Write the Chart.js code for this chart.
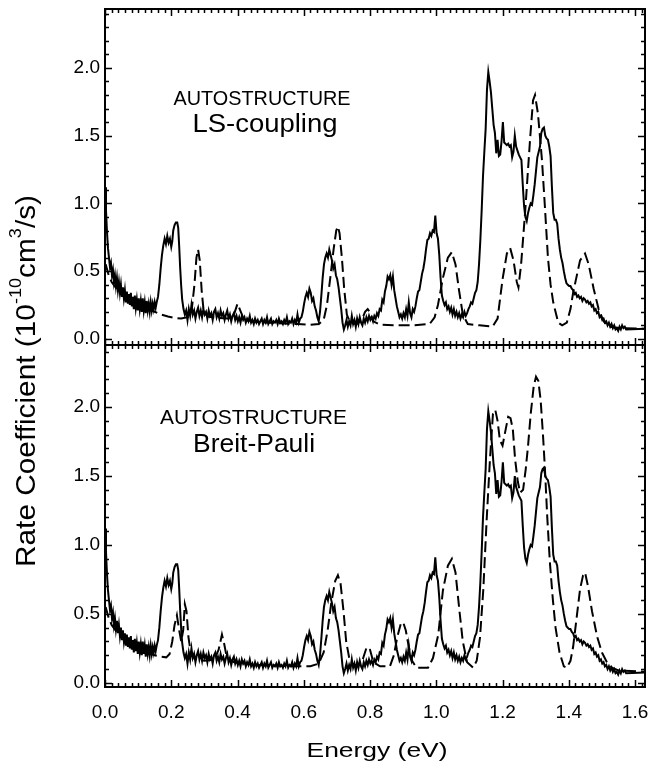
<!DOCTYPE html>
<html>
<head>
<meta charset="utf-8">
<title>Rate coefficient vs energy</title>
<script src="https://cdn.jsdelivr.net/npm/chart.js@4.4.1/dist/chart.umd.min.js"></script>
<style>
  html, body { margin: 0; padding: 0; background: #fff; }
  #rateChart { display: block; }
</style>
</head>
<body>
<canvas id="rateChart" width="649" height="770"></canvas>
<script>
/*===== DATA =====*/
// measured rate coefficient (same in both panels)
const expEnergy = [
  0.000, 0.003, 0.006, 0.009, 0.012, 0.015, 0.018, 0.021, 0.024, 0.027,
  0.030, 0.033, 0.036, 0.039, 0.042, 0.045, 0.048, 0.051, 0.054, 0.057,
  0.060, 0.063, 0.066, 0.069, 0.072, 0.075, 0.078, 0.081, 0.084, 0.087,
  0.090, 0.093, 0.096, 0.099, 0.102, 0.105, 0.108, 0.111, 0.114, 0.117,
  0.120, 0.123, 0.126, 0.129, 0.132, 0.135, 0.138, 0.141, 0.144, 0.147,
  0.150, 0.153,
  0.156, 0.160, 0.164, 0.168, 0.172, 0.176, 0.180, 0.184, 0.188, 0.192,
  0.196, 0.200, 0.203, 0.206, 0.210, 0.214, 0.218, 0.221, 0.224, 0.227,
  0.230, 0.233, 0.237, 0.241,
  0.245, 0.249, 0.253, 0.257, 0.261, 0.265, 0.269, 0.273, 0.277, 0.281,
  0.285, 0.289, 0.293, 0.297, 0.301, 0.305, 0.309, 0.313, 0.317, 0.321,
  0.325, 0.329, 0.333, 0.337, 0.341, 0.345, 0.349, 0.353, 0.357, 0.361,
  0.365, 0.369, 0.373, 0.377, 0.381, 0.385, 0.389, 0.393, 0.397, 0.401,
  0.405, 0.409, 0.413, 0.417, 0.421, 0.425, 0.429, 0.433, 0.437, 0.441,
  0.445, 0.449, 0.453, 0.457, 0.461, 0.465, 0.469, 0.473, 0.477, 0.481,
  0.485, 0.489, 0.493, 0.497, 0.501, 0.505, 0.509, 0.513, 0.517, 0.521,
  0.525, 0.529, 0.533, 0.537, 0.541, 0.545, 0.549, 0.553, 0.557, 0.561,
  0.565, 0.569, 0.573, 0.577, 0.581, 0.585, 0.589, 0.593, 0.597, 0.601,
  0.605, 0.609, 0.613, 0.617, 0.621, 0.625, 0.629, 0.633, 0.637, 0.641,
  0.645, 0.649, 0.653, 0.657, 0.661, 0.665, 0.669, 0.673, 0.677, 0.681,
  0.685, 0.689, 0.693, 0.697, 0.701, 0.705, 0.709, 0.713, 0.717, 0.721,
  0.725, 0.729, 0.733, 0.737, 0.741, 0.745, 0.749, 0.753, 0.757, 0.761,
  0.765, 0.769, 0.773, 0.777, 0.781, 0.785, 0.789, 0.793, 0.797, 0.801,
  0.805, 0.809, 0.813, 0.817, 0.821, 0.825, 0.829, 0.833, 0.837, 0.841,
  0.845, 0.849, 0.853, 0.857, 0.861, 0.865, 0.869, 0.873, 0.877, 0.881,
  0.885, 0.889, 0.893, 0.897, 0.901, 0.905, 0.909, 0.913, 0.917, 0.921,
  0.925, 0.929, 0.933, 0.937, 0.941, 0.945, 0.949, 0.953, 0.957, 0.961,
  0.965, 0.969, 0.973, 0.977, 0.981, 0.985, 0.989, 0.993, 0.997, 1.001,
  1.005, 1.009, 1.013, 1.017, 1.021, 1.025, 1.029, 1.033, 1.037, 1.041,
  1.045, 1.049, 1.053, 1.057, 1.061, 1.065, 1.069, 1.073, 1.077, 1.081,
  1.085, 1.089, 1.093, 1.097, 1.101, 1.105, 1.109, 1.113, 1.117, 1.121,
  1.125, 1.129, 1.133, 1.137, 1.141, 1.145, 1.149, 1.153, 1.157, 1.161,
  1.165, 1.169, 1.173, 1.177, 1.181, 1.185, 1.189, 1.193, 1.197, 1.201,
  1.205, 1.209, 1.213, 1.217, 1.221, 1.225, 1.229, 1.233, 1.237, 1.241,
  1.245, 1.249, 1.253, 1.257, 1.261, 1.265, 1.269, 1.273, 1.277, 1.281,
  1.285, 1.289, 1.293, 1.297, 1.301, 1.305, 1.309, 1.313, 1.317, 1.321,
  1.325, 1.329, 1.333, 1.337, 1.341, 1.345, 1.349, 1.353, 1.357, 1.361,
  1.365, 1.369, 1.373, 1.377, 1.381, 1.385, 1.389, 1.393, 1.397, 1.401,
  1.405, 1.409, 1.413, 1.417, 1.421, 1.425, 1.429, 1.433, 1.437, 1.441,
  1.445, 1.449, 1.453, 1.457, 1.461, 1.465, 1.469, 1.473, 1.477, 1.481,
  1.485, 1.489, 1.493, 1.497, 1.501, 1.505, 1.509, 1.513, 1.517, 1.521,
  1.525, 1.529, 1.533, 1.537, 1.541, 1.545, 1.549, 1.553, 1.557, 1.561,
  1.565, 1.569, 1.573, 1.630
];
const expRate = [
  1.12, 0.95, 0.79, 0.67, 0.60, 0.53, 0.56, 0.47, 0.51, 0.42,
  0.47, 0.39, 0.45, 0.36, 0.42, 0.34, 0.40, 0.31, 0.38, 0.30,
  0.36, 0.27, 0.35, 0.26, 0.33, 0.25, 0.34, 0.24, 0.31, 0.22,
  0.32, 0.23, 0.29, 0.21, 0.30, 0.22, 0.28, 0.20, 0.30, 0.21,
  0.27, 0.19, 0.28, 0.21, 0.26, 0.20, 0.27, 0.21, 0.26, 0.22,
  0.27, 0.23,
  0.27, 0.31, 0.40, 0.52, 0.62, 0.69, 0.74, 0.70, 0.76, 0.71,
  0.74, 0.68, 0.72, 0.80, 0.84, 0.86, 0.86, 0.82, 0.68, 0.52,
  0.39, 0.29, 0.22, 0.18,
  0.21, 0.14, 0.22, 0.17, 0.25, 0.18, 0.21, 0.15, 0.20, 0.23,
  0.17, 0.21, 0.16, 0.22, 0.18, 0.20, 0.15, 0.21, 0.17, 0.19,
  0.14, 0.20, 0.22, 0.16, 0.19, 0.15, 0.21, 0.17, 0.19, 0.14,
  0.18, 0.21, 0.15, 0.18, 0.13, 0.17, 0.19, 0.14, 0.17, 0.13,
  0.16, 0.12, 0.17, 0.14, 0.16, 0.12, 0.15, 0.13, 0.17, 0.12,
  0.14, 0.11, 0.15, 0.12, 0.14, 0.11, 0.13, 0.15, 0.11, 0.14,
  0.12, 0.16, 0.11, 0.13, 0.15, 0.11, 0.13, 0.12, 0.14, 0.11,
  0.15, 0.12, 0.13, 0.11, 0.14, 0.12, 0.16, 0.11, 0.13, 0.12,
  0.15, 0.11, 0.14, 0.12, 0.18, 0.12, 0.15, 0.16, 0.20, 0.26,
  0.31, 0.34, 0.31, 0.37, 0.34, 0.28, 0.30, 0.24, 0.21, 0.16,
  0.13, 0.20, 0.32, 0.45, 0.55, 0.60, 0.63, 0.60, 0.66, 0.62,
  0.58, 0.52, 0.55, 0.47, 0.44, 0.38, 0.30, 0.22, 0.12, 0.07,
  0.10, 0.14, 0.09, 0.13, 0.10, 0.17, 0.11, 0.14, 0.09, 0.15,
  0.11, 0.16, 0.12, 0.10, 0.15, 0.12, 0.16, 0.13, 0.17, 0.14,
  0.16, 0.13, 0.17, 0.15, 0.19, 0.17, 0.22, 0.21, 0.29, 0.27,
  0.35, 0.39, 0.46, 0.44, 0.47, 0.40, 0.46, 0.36, 0.30, 0.24,
  0.20, 0.16, 0.18, 0.15, 0.19, 0.16, 0.22, 0.17, 0.27, 0.19,
  0.16, 0.22, 0.20, 0.24, 0.30, 0.35, 0.36, 0.42, 0.48, 0.52,
  0.58, 0.66, 0.73, 0.74, 0.78, 0.76, 0.80, 0.79, 0.91, 0.78,
  0.74, 0.62, 0.45, 0.32, 0.28, 0.25, 0.27, 0.22, 0.24, 0.20,
  0.23, 0.18, 0.22, 0.17, 0.20, 0.16, 0.19, 0.15, 0.18, 0.16,
  0.20, 0.17, 0.19, 0.22, 0.24, 0.27, 0.26, 0.30, 0.34, 0.36,
  0.42, 0.55, 0.73, 0.95, 1.20, 1.38, 1.55, 1.84, 1.97, 1.90,
  1.82, 1.70, 1.58, 1.52, 1.37, 1.47, 1.35, 1.36, 1.46, 1.60,
  1.45, 1.44, 1.43, 1.44, 1.42, 1.43, 1.34, 1.38, 1.50, 1.42,
  1.39, 1.36, 1.34, 1.32, 1.14, 0.98, 0.90, 0.87, 0.93, 0.97,
  1.00, 0.99, 1.06, 1.14, 1.24, 1.34, 1.38, 1.42, 1.52, 1.55,
  1.56, 1.50, 1.48, 1.47, 1.42, 1.35, 1.12, 0.93, 0.88, 0.88,
  0.85, 0.74, 0.66, 0.60, 0.56, 0.50, 0.45, 0.41, 0.40, 0.39,
  0.39, 0.37, 0.36, 0.33, 0.34, 0.31, 0.32, 0.30, 0.31, 0.28,
  0.30, 0.29, 0.27, 0.28, 0.26, 0.27, 0.24, 0.25, 0.21, 0.22,
  0.19, 0.20, 0.16, 0.17, 0.14, 0.15, 0.12, 0.13, 0.10, 0.12,
  0.09, 0.11, 0.08, 0.10, 0.07, 0.08, 0.06, 0.09, 0.07, 0.10,
  0.08, 0.09, 0.07, 0.075
];

// AUTOSTRUCTURE, LS-coupling (top panel, dashed)
const lsEnergy = [
  0.002, 0.010, 0.020, 0.035, 0.050, 0.070, 0.090, 0.110, 0.130, 0.150,
  0.170, 0.190, 0.210, 0.230, 0.250, 0.262, 0.270, 0.276, 0.281, 0.286,
  0.292, 0.298, 0.310, 0.340, 0.370, 0.388, 0.400, 0.410, 0.420, 0.460,
  0.520, 0.580, 0.620, 0.645, 0.660, 0.670, 0.680, 0.690, 0.698, 0.703,
  0.708, 0.715, 0.722, 0.730, 0.740, 0.760, 0.775, 0.785, 0.793, 0.801,
  0.810, 0.830, 0.870, 0.930, 0.980, 0.995, 1.005, 1.020, 1.035, 1.047,
  1.058, 1.068, 1.080, 1.095, 1.130, 1.170, 1.185, 1.200, 1.213, 1.223,
  1.233, 1.243, 1.248, 1.256, 1.268, 1.283, 1.292, 1.298, 1.307, 1.319,
  1.328, 1.337, 1.345, 1.353, 1.368, 1.380, 1.394, 1.405, 1.413, 1.434,
  1.449, 1.460, 1.475, 1.490, 1.505, 1.520, 1.550, 1.630
];
const lsRate = [
  0.55, 0.48, 0.42, 0.37, 0.33, 0.29, 0.26, 0.235, 0.215, 0.20,
  0.18, 0.165, 0.155, 0.15, 0.16, 0.22, 0.40, 0.60, 0.66, 0.58,
  0.35, 0.20, 0.165, 0.155, 0.15, 0.17, 0.26, 0.20, 0.14, 0.125,
  0.115, 0.11, 0.105, 0.11, 0.14, 0.25, 0.45, 0.66, 0.80, 0.83,
  0.78, 0.60, 0.37, 0.18, 0.12, 0.11, 0.14, 0.20, 0.22, 0.19,
  0.13, 0.105, 0.10, 0.10, 0.11, 0.16, 0.25, 0.45, 0.60, 0.64,
  0.55, 0.37, 0.18, 0.11, 0.10, 0.09, 0.15, 0.44, 0.63, 0.67,
  0.58, 0.42, 0.38, 0.55, 0.93, 1.47, 1.76, 1.80, 1.66, 1.32,
  0.97, 0.60, 0.40, 0.27, 0.12, 0.10, 0.12, 0.22, 0.34, 0.58,
  0.63, 0.55, 0.37, 0.22, 0.13, 0.09, 0.08, 0.075
];

// AUTOSTRUCTURE, Breit-Pauli (bottom panel, dashed)
const bpEnergy = [
  0.002, 0.010, 0.020, 0.035, 0.050, 0.070, 0.090, 0.110, 0.130, 0.150,
  0.170, 0.185, 0.195, 0.203, 0.210, 0.217, 0.224, 0.230, 0.236, 0.241,
  0.246, 0.252, 0.260, 0.275, 0.300, 0.330, 0.343, 0.353, 0.360, 0.368,
  0.390, 0.450, 0.520, 0.580, 0.620, 0.645, 0.660, 0.672, 0.683, 0.695,
  0.703, 0.711, 0.720, 0.728, 0.738, 0.750, 0.765, 0.778, 0.790, 0.800,
  0.810, 0.830, 0.860, 0.872, 0.882, 0.893, 0.900, 0.908, 0.917, 0.927,
  0.940, 0.975, 0.990, 1.006, 1.020, 1.035, 1.047, 1.058, 1.070, 1.080,
  1.093, 1.111, 1.122, 1.132, 1.142, 1.152, 1.162, 1.171, 1.178, 1.185,
  1.192, 1.200, 1.208, 1.217, 1.224, 1.231, 1.238, 1.246, 1.253, 1.262,
  1.270, 1.277, 1.285, 1.294, 1.301, 1.308, 1.315, 1.322, 1.328, 1.335,
  1.343, 1.352, 1.360, 1.372, 1.385, 1.394, 1.405, 1.413, 1.424, 1.434,
  1.443, 1.449, 1.458, 1.470, 1.485, 1.500, 1.515, 1.530, 1.550, 1.630
];
const bpRate = [
  0.55, 0.48, 0.42, 0.37, 0.33, 0.29, 0.26, 0.235, 0.215, 0.20,
  0.19, 0.185, 0.21, 0.30, 0.42, 0.49, 0.38, 0.30, 0.38, 0.57,
  0.52, 0.33, 0.20, 0.17, 0.16, 0.17, 0.24, 0.35, 0.28, 0.18,
  0.15, 0.13, 0.125, 0.12, 0.12, 0.14, 0.22, 0.38, 0.58, 0.74,
  0.78, 0.72, 0.52, 0.30, 0.17, 0.13, 0.13, 0.17, 0.26, 0.24,
  0.15, 0.12, 0.12, 0.20, 0.33, 0.43, 0.44, 0.38, 0.26, 0.16,
  0.11, 0.11, 0.18, 0.35, 0.67, 0.85, 0.90, 0.80, 0.52, 0.30,
  0.15, 0.11, 0.16, 0.33, 0.68, 1.18, 1.62, 1.95, 1.98, 1.90,
  1.76, 1.72, 1.82, 1.93, 1.92, 1.84, 1.62, 1.46, 1.38, 1.40,
  1.55, 1.72, 1.95, 2.15, 2.22, 2.19, 2.05, 1.80, 1.55, 1.20,
  0.87, 0.60, 0.40, 0.22, 0.12, 0.11, 0.16, 0.26, 0.48, 0.68,
  0.78, 0.80, 0.70, 0.52, 0.34, 0.22, 0.15, 0.11, 0.09, 0.08
];

// axis ranges and tick steps
const energyRange = [0, 1.63];
const topRange = [-0.045, 2.435];
const bottomRange = [-0.03, 2.45];
const energyMajor = 0.2, energyMinor = 0.02;
const rateMajor = 0.5, rateMinor = 0.1;

const topLabel = ["AUTOSTRUCTURE", "LS-coupling"];
const bottomLabel = ["AUTOSTRUCTURE", "Breit-Pauli"];

const FONT = "'Liberation Sans', Arial, Helvetica, sans-serif";

function toPoints(xs, ys) {
  return xs.map((x, i) => ({ x: x, y: ys[i] }));
}

// draws text squeezed/stretched along the baseline to a given width
function fitText(ctx, text, cx, baseY, size, width) {
  ctx.font = size + "px " + FONT;
  const natural = ctx.measureText(text).width;
  ctx.save();
  ctx.translate(cx, baseY);
  ctx.scale(width / natural, 1);
  ctx.textAlign = "center";
  ctx.textBaseline = "alphabetic";
  ctx.fillText(text, 0, 0);
  ctx.restore();
}

/*===== FRAME, TICKS AND TEXT =====*/
const framePlugin = {
  id: "framePlugin",
  afterDatasetsDraw(chart) {
    const { ctx, chartArea: a, scales } = chart;
    const xs = scales.x, yt = scales.yTop, yb = scales.yBot;
    const mid = yt.bottom;

    ctx.save();
    ctx.strokeStyle = "#000";
    ctx.fillStyle = "#000";
    ctx.lineWidth = 2;
    ctx.strokeRect(a.left, a.top, a.right - a.left, a.bottom - a.top);
    ctx.beginPath();
    ctx.moveTo(a.left, mid);
    ctx.lineTo(a.right, mid);
    ctx.stroke();

    // energy ticks: top (down), middle (both ways), bottom (up)
    ctx.lineWidth = 1.5;
    ctx.beginPath();
    const nx = Math.round(energyRange[1] / energyMinor);
    for (let i = 0; i <= nx; i++) {
      const v = i * energyMinor;
      if (v > xs.max) break;
      const px = Math.round(xs.getPixelForValue(v)) + 0.5;
      const len = i % Math.round(energyMajor / energyMinor) === 0 ? 7 : 4;
      ctx.moveTo(px, a.top); ctx.lineTo(px, a.top + len);
      ctx.moveTo(px, mid - len); ctx.lineTo(px, mid + len);
      ctx.moveTo(px, a.bottom); ctx.lineTo(px, a.bottom - len);
    }
    // rate ticks on left and right, both panels
    [yt, yb].forEach((s) => {
      for (let i = 0; i <= 24; i++) {
        const v = i * rateMinor;
        const py = Math.round(s.getPixelForValue(v)) + 0.5;
        if (py < s.top + 2 || py > s.bottom - 2) continue;
        const len = i % Math.round(rateMajor / rateMinor) === 0 ? 7 : 4;
        ctx.moveTo(a.left, py); ctx.lineTo(a.left + len, py);
        ctx.moveTo(a.right, py); ctx.lineTo(a.right - len, py);
      }
    });
    ctx.stroke();

    // panel captions
    fitText(ctx, topLabel[0], xs.getPixelForValue(0.474), yt.getPixelForValue(1.727), 21, 177);
    fitText(ctx, topLabel[1], xs.getPixelForValue(0.483), yt.getPixelForValue(1.528), 25, 145);
    fitText(ctx, bottomLabel[0], xs.getPixelForValue(0.448), yb.getPixelForValue(1.877), 21, 187);
    fitText(ctx, bottomLabel[1], xs.getPixelForValue(0.450), yb.getPixelForValue(1.674), 26, 122);

    // x axis title
    fitText(ctx, "Energy (eV)", (a.left + a.right) / 2 + 2, 757, 21, 141);

    // y axis title with superscripts, rotated
    const parts = [
      { t: "Rate Coefficient (10", sup: false },
      { t: "-10", sup: true },
      { t: "cm", sup: false },
      { t: "3", sup: true },
      { t: "/s)", sup: false }
    ];
    const mainSize = 28, supSize = 17;
    let total = 0;
    parts.forEach((p) => {
      ctx.font = (p.sup ? supSize : mainSize) + "px " + FONT;
      p.w = ctx.measureText(p.t).width;
      total += p.w;
    });
    ctx.save();
    ctx.translate(35, 381);
    ctx.rotate(-Math.PI / 2);
    ctx.scale(372 / total, 1);
    ctx.textAlign = "left";
    ctx.textBaseline = "alphabetic";
    let cx = -total / 2;
    parts.forEach((p) => {
      ctx.font = (p.sup ? supSize : mainSize) + "px " + FONT;
      ctx.fillText(p.t, cx, p.sup ? -14 : 0);
      cx += p.w;
    });
    ctx.restore();
    ctx.restore();
  }
};

/*===== CHART =====*/
const tickFont = { family: FONT, size: 19 };
const fmt = (v) => Number(v).toFixed(1);

function rateAxis(range, weight) {
  return {
    type: "linear",
    position: "left",
    stack: "rate",
    stackWeight: weight,
    min: range[0],
    max: range[1],
    grid: { display: false, drawTicks: false },
    border: { display: false },
    ticks: {
      stepSize: rateMajor,
      includeBounds: false,
      callback: fmt,
      font: tickFont,
      color: "#000",
      padding: 5
    },
    afterFit: (s) => { s.width = 105; s.paddingTop = 0; s.paddingBottom = 0; }
  };
}

const solid = { borderColor: "#000", borderWidth: 2, pointRadius: 0, fill: false, tension: 0 };
const dashed = { borderColor: "#000", borderWidth: 2, borderDash: [11, 5], pointRadius: 0, fill: false, tension: 0 };

const ctx = document.getElementById("rateChart").getContext("2d");
const rateChart = new Chart(ctx, {
  type: "line",
  data: {
    datasets: [
      Object.assign({ label: "Experiment (LS panel)", data: toPoints(expEnergy, expRate), yAxisID: "yTop" }, solid),
      Object.assign({ label: "AUTOSTRUCTURE LS-coupling", data: toPoints(lsEnergy, lsRate), yAxisID: "yTop" }, dashed),
      Object.assign({ label: "Experiment (BP panel)", data: toPoints(expEnergy, expRate), yAxisID: "yBot" }, solid),
      Object.assign({ label: "AUTOSTRUCTURE Breit-Pauli", data: toPoints(bpEnergy, bpRate), yAxisID: "yBot" }, dashed)
    ]
  },
  options: {
    responsive: false,
    animation: false,
    layout: { padding: { top: 9, right: 4, left: 0, bottom: 0 } },
    plugins: { legend: { display: false }, tooltip: { enabled: false } },
    scales: {
      x: {
        type: "linear",
        position: "bottom",
        min: energyRange[0],
        max: energyRange[1],
        grid: { display: false, drawTicks: false },
        border: { display: false },
        ticks: {
          stepSize: energyMajor,
          includeBounds: false,
          autoSkip: false,
          maxRotation: 0,
          callback: fmt,
          font: tickFont,
          color: "#000",
          padding: 14
        },
        afterFit: (s) => { s.height = 83; s.paddingLeft = 0; s.paddingRight = 0; }
      },
      yBot: rateAxis(bottomRange, 342),
      yTop: rateAxis(topRange, 336)
    }
  },
  plugins: [framePlugin]
});
</script>
</body>
</html>
